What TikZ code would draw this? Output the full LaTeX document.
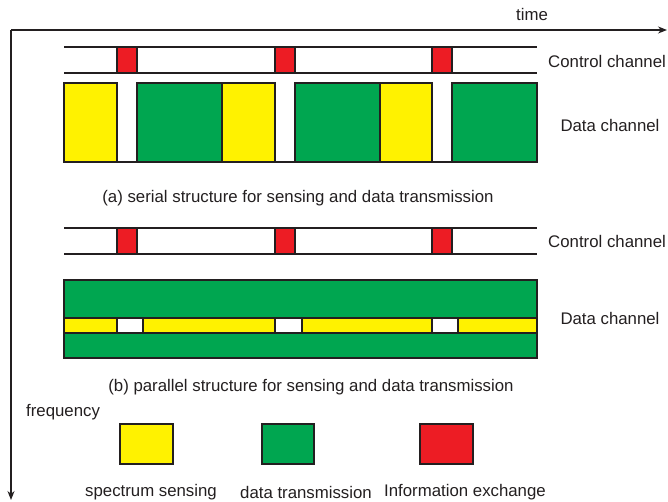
\documentclass[tikz,border=0pt]{standalone}
\usepackage{fontspec}
\setmainfont{Liberation Sans}
\usetikzlibrary{arrows.meta}
\definecolor{ink}{HTML}{231F20}
\definecolor{sensY}{HTML}{FFF200}
\definecolor{dataG}{HTML}{00A650}
\definecolor{infoR}{HTML}{ED1C24}
\tikzset{
  blk/.style={draw=ink, line width=1.2pt},
  ylw/.style={blk, fill=sensY},
  grn/.style={blk, fill=dataG},
  rd/.style={blk, fill=infoR},
  wht/.style={blk, fill=white},
  chline/.style={draw=ink, line width=1.2pt},
  axis/.style={draw=ink, line width=1.2pt, -{Stealth[length=9pt,width=7pt]}},
  lbl/.style={text=ink, font=\fontsize{16.8}{19}\selectfont, inner sep=0pt},
}
\begin{document}
\begin{tikzpicture}[x=1pt,y=-1pt]
\useasboundingbox (0,0) rectangle (668,502);
% axes
\coordinate (O) at (11,30);
\coordinate (T) at (667,30);
\coordinate (F) at (11,500);
\draw[axis] (O) -- (T);
\draw[axis] (O) -- (F);
\node[lbl] (time) at (532,15) {time};

% ---------- (a) serial ----------
\draw[chline] (64,47) -- (537,47);
\draw[chline] (64,73) -- (537,73);
\foreach \x in {117,275,432} \draw[rd] (\x,47) rectangle (\x+20,73);
\draw[chline] (64,162) -- (537,162);
\draw[ylw] (64,83) rectangle (117,162);
\draw[grn] (137,83) rectangle (222,162);
\draw[ylw] (222,83) rectangle (275,162);
\draw[grn] (295,83) rectangle (380,162);
\draw[ylw] (380,83) rectangle (432,162);
\draw[grn] (452,83) rectangle (537,162);
\node[lbl, anchor=west] (cca) at (548,61) {Control channel};
\node[lbl] (dca) at (610,125) {Data channel};
\node[lbl] (capa) at (298,198) {(a) serial structure for sensing and data transmission};

% ---------- (b) parallel ----------
\draw[chline] (64,228) -- (537,228);
\draw[chline] (64,254) -- (537,254);
\foreach \x in {117,275,432} \draw[rd] (\x,228) rectangle (\x+20,254);
\draw[grn] (64,280) rectangle (537,358);
\draw[ylw] (64,318) rectangle (117,333);
\draw[wht] (117,318) rectangle (143,333);
\draw[ylw] (143,318) rectangle (275,333);
\draw[wht] (275,318) rectangle (302,333);
\draw[ylw] (302,318) rectangle (432,333);
\draw[wht] (432,318) rectangle (458,333);
\draw[ylw] (458,318) rectangle (537,333);
\node[lbl, anchor=west] (ccb) at (548,241) {Control channel};
\node[lbl] (dcb) at (610,318) {Data channel};
\node[lbl] (capb) at (311,387) {(b) parallel structure for sensing and data transmission};

% ---------- legend ----------
\node[lbl, anchor=west] (freq) at (26,412) {frequency};
\draw[ylw] (120,424) rectangle (173,464);
\draw[grn] (262,424) rectangle (314,464);
\draw[rd] (420,424) rectangle (473,464);
\node[lbl] (ls) at (151,492) {spectrum sensing};
\node[lbl] (ld) at (306,492) {data transmission};
\node[lbl] (li) at (465,492) {Information exchange};
\end{tikzpicture}
\end{document}
